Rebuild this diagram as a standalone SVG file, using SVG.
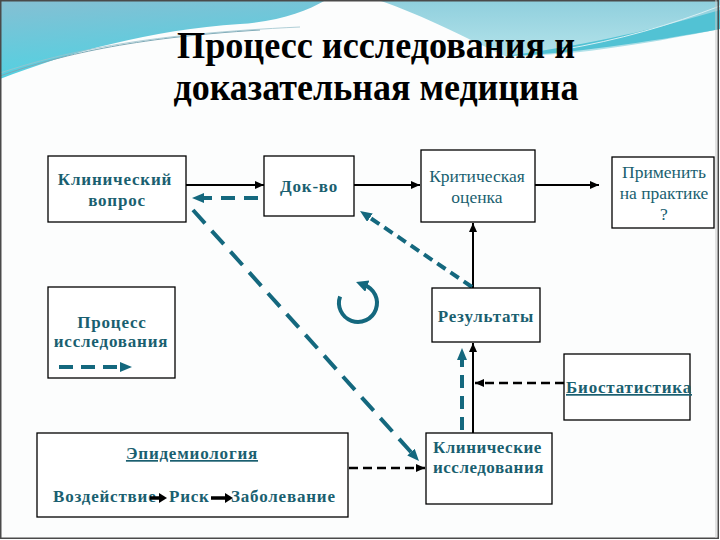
<svg xmlns="http://www.w3.org/2000/svg" width="720" height="540" viewBox="0 0 720 540">
<defs>
<linearGradient id="gLeft" x1="0" y1="0" x2="0.3" y2="1">
<stop offset="0" stop-color="#86bfd3"/>
<stop offset="1" stop-color="#4fd2e2"/>
</linearGradient>
<linearGradient id="gRight" x1="0" y1="0" x2="0" y2="1">
<stop offset="0" stop-color="#8fcfdd"/>
<stop offset="1" stop-color="#b4e3ea"/>
</linearGradient>
<marker id="ab" markerUnits="userSpaceOnUse" markerWidth="10" markerHeight="9" refX="9" refY="4" orient="auto">
<path d="M0,0 L9,4 L0,8 z" fill="#000"/>
</marker>
<marker id="at" markerUnits="userSpaceOnUse" markerWidth="13" markerHeight="11" refX="2" refY="5" orient="auto">
<path d="M0,0 L12,5 L0,10 z" fill="#14687e"/>
</marker>
<marker id="ac" markerUnits="userSpaceOnUse" markerWidth="14" markerHeight="14" refX="3" refY="6" orient="auto">
<path d="M0,0 L12,6 L0,12 z" fill="#14687e"/>
</marker>
</defs>
<style>
.box{fill:#fff;stroke:#000;stroke-width:1.3}
.sol{fill:none;stroke:#000;stroke-width:2}
.dk{fill:none;stroke:#000;stroke-width:2.5;stroke-dasharray:9 5}
.dt{fill:none;stroke:#14687e;stroke-width:4}
</style>
<rect x="0" y="0" width="720" height="540" fill="#fcfdfd"/>
<g id="header">
<path d="M0,0 H326 C305,12 280,21 240,24 C150,30 70,52 0,79 Z" fill="url(#gLeft)"/>
<path d="M378,0 H720 V29 C690,35 640,45 580,52 C550,55 525,56 505,56 C470,40 425,16 378,0 Z" fill="url(#gRight)"/>
<path d="M720,10 C660,28 590,45 505,56 C560,55 650,42 720,29 Z" fill="#52c2d4"/>
<path d="M0,76 C60,55 130,38 260,30" fill="none" stroke="#7ea9b6" stroke-width="1"/>
<path d="M0,73 C70,50 150,34 300,27" fill="none" stroke="#9cc3cd" stroke-width="0.8"/>
<path d="M560,50 C620,40 670,25 720,6" fill="none" stroke="#d8f0f4" stroke-width="1"/>
</g>
<rect x="0.75" y="0.75" width="717.5" height="537.5" fill="none" stroke="#4a4a4a" stroke-width="1.5"/>
<line x1="716" y1="0" x2="716" y2="538" stroke="#c8c8c8" stroke-width="1"/>
<g id="heading" font-family="Times New Roman, Liberation Serif, serif" font-weight="bold" font-size="37" fill="#000" text-anchor="middle">
<text x="376" y="58" textLength="398" lengthAdjust="spacingAndGlyphs">Процесс исследования и</text>
<text x="376" y="100" textLength="405" lengthAdjust="spacingAndGlyphs">доказательная медицина</text>
</g>
<g id="connectors">
<path class="sol" d="M186,185 H264" marker-end="url(#ab)"/>
<path class="sol" d="M354,185 H420" marker-end="url(#ab)"/>
<path class="sol" d="M535,185 H599" marker-end="url(#ab)"/>
<path class="sol" d="M473,288 V223" marker-end="url(#ab)"/>
<path class="sol" d="M473,433 V343" marker-end="url(#ab)"/>
<path class="dk" d="M564,383 H475" marker-end="url(#ab)"/>
<path class="dk" d="M349,468 H425" marker-end="url(#ab)"/>
<path class="dt" d="M258,198 H202" stroke-dasharray="14 9" marker-end="url(#at)"/>
<path class="dt" d="M193,210 L412.3,453.6" stroke-dasharray="18 10" marker-end="url(#at)"/>
<path class="dt" d="M462,430 V358" stroke-dasharray="13 8" marker-end="url(#at)"/>
<path class="dt" d="M472,287 L368.3,216.6" stroke-dasharray="10 6" marker-end="url(#at)"/>
<path class="dt" d="M340.1,296.5 A19,19 0 1 0 364.5,285.1" marker-end="url(#ac)"/>
</g>
<g id="node-clinical-question" font-family="Times New Roman, Liberation Serif, serif" font-weight="bold" font-size="17" fill="#1a5f70" letter-spacing="0.8" text-anchor="middle">
<rect class="box" x="48" y="156" width="138" height="66"/>
<text x="115" y="185">Клинический</text>
<text x="117" y="206">вопрос</text>
</g>
<g id="node-evidence" font-family="Times New Roman, Liberation Serif, serif" font-weight="bold" font-size="17" fill="#1a5f70" letter-spacing="0.8" text-anchor="middle">
<rect class="box" x="264" y="156" width="90" height="60"/>
<text x="309" y="192">Док-во</text>
</g>
<g id="node-critical" font-family="Times New Roman, Liberation Serif, serif" font-size="17.5" fill="#1a5f70" text-anchor="middle">
<rect class="box" x="421" y="150" width="114" height="72"/>
<text x="477" y="182">Критическая</text>
<text x="477" y="203">оценка</text>
</g>
<g id="node-apply" font-family="Times New Roman, Liberation Serif, serif" font-size="17.5" fill="#1a5f70" text-anchor="middle">
<rect class="box" x="612" y="157" width="102" height="71"/>
<text x="664" y="178">Применить</text>
<text x="664" y="199">на практике</text>
<text x="664" y="220">?</text>
</g>
<g id="node-results" font-family="Times New Roman, Liberation Serif, serif" font-weight="bold" font-size="17" fill="#1a5f70" letter-spacing="0.8" text-anchor="middle">
<rect class="box" x="432" y="288" width="108" height="54"/>
<text x="486" y="322">Результаты</text>
</g>
<g id="node-legend" font-family="Times New Roman, Liberation Serif, serif" font-weight="bold" font-size="17" fill="#1a5f70" letter-spacing="0.8" text-anchor="middle">
<rect class="box" x="48" y="287" width="127" height="91"/>
<text x="112" y="328">Процесс</text>
<text x="111" y="347">исследования</text>
<path class="dt" d="M59,367 H122" stroke-dasharray="14 8" marker-end="url(#at)"/>
</g>
<g id="node-biostat" font-family="Times New Roman, Liberation Serif, serif" font-weight="bold" font-size="17" fill="#1a5f70" letter-spacing="0.8">
<rect class="box" x="564" y="354" width="126" height="66"/>
<text x="566" y="393" text-decoration="underline">Биостатистика</text>
</g>
<g id="node-epidemiology" font-family="Times New Roman, Liberation Serif, serif" font-weight="bold" font-size="17" fill="#1a5f70" letter-spacing="0.8">
<rect class="box" x="37" y="433" width="311" height="84"/>
<text x="192" y="459" text-anchor="middle" text-decoration="underline">Эпидемиология</text>
<text x="53" y="502">Воздействие</text>
<path d="M150,498 H160" stroke="#000" stroke-width="3.5"/>
<path d="M159,493 L167,498 L159,503 z" fill="#000"/>
<text x="169" y="502">Риск</text>
<path d="M211,498 H226" stroke="#000" stroke-width="3.5"/>
<path d="M225,493 L233,498 L225,503 z" fill="#000"/>
<text x="231" y="502">Заболевание</text>
</g>
<g id="node-clinical-trials" font-family="Times New Roman, Liberation Serif, serif" font-weight="bold" font-size="17" fill="#1a5f70" letter-spacing="0.5">
<rect class="box" x="426" y="433" width="126" height="71"/>
<text x="433" y="453">Клинические</text>
<text x="433" y="473">исследования</text>
</g>
</svg>
